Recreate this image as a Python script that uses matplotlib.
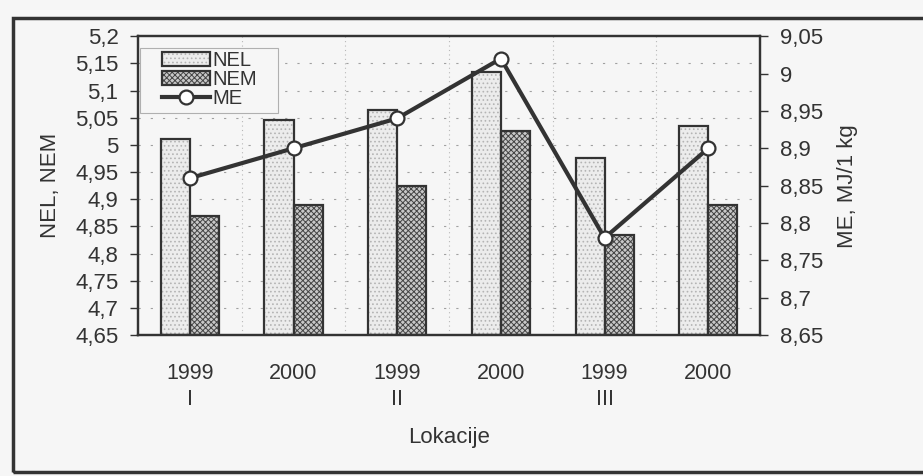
import matplotlib
matplotlib.use("Agg")
import matplotlib.pyplot as plt
import numpy as np
from matplotlib.patches import Patch, Rectangle
from matplotlib.lines import Line2D
from matplotlib.ticker import FuncFormatter, MultipleLocator

plt.rcParams['font.family'] = ['Liberation Sans', 'DejaVu Sans']
plt.rcParams['hatch.linewidth'] = 0.7

# data
years = ['1999', '2000', '1999', '2000', '1999', '2000']
locations = ['I', '', 'II', '', 'III', '']
NEL = [5.01, 5.045, 5.065, 5.135, 4.975, 5.035]
NEM = [4.87, 4.89, 4.925, 5.025, 4.835, 4.89]
ME = [8.86, 8.90, 8.94, 9.02, 8.78, 8.90]

ink = '#333333'
paper = '#f6f6f6'
nel_face, nel_hatch = '#ececec', '#b4b4b4'
nem_face, nem_hatch = '#c8c8c8', '#444444'

fig = plt.figure(figsize=(9.23, 4.76), dpi=100, facecolor=paper)
ax = fig.add_axes([0.1495, 0.296, 0.674, 0.628])
ax.set_facecolor(paper)

x = np.arange(len(years))
w = 0.28

# hatched fill first, then dark outline on top
ax.bar(x - w/2, [v - 4.65 for v in NEL], w, bottom=4.65, color=nel_face,
       hatch='....', edgecolor=nel_hatch, linewidth=0, zorder=2)
ax.bar(x - w/2, [v - 4.65 for v in NEL], w, bottom=4.65, fill=False,
       edgecolor=ink, linewidth=1.6, zorder=3)
ax.bar(x + w/2, [v - 4.65 for v in NEM], w, bottom=4.65, color=nem_face,
       hatch='xxxxxx', edgecolor=nem_hatch, linewidth=0, zorder=2)
ax.bar(x + w/2, [v - 4.65 for v in NEM], w, bottom=4.65, fill=False,
       edgecolor=ink, linewidth=1.6, zorder=3)

ax.set_xlim(-0.5, len(years) - 0.5)
ax.set_ylim(4.65, 5.2)
ax.yaxis.set_major_locator(MultipleLocator(0.05))
comma = FuncFormatter(lambda v, _: f'{v:.6g}'.replace('.', ','))
ax.yaxis.set_major_formatter(comma)

ax.set_xticks(x)
ax.set_xticklabels([f'{y}\n{l}' if l else y for y, l in zip(years, locations)],
                   va='top', linespacing=1.35)
ax.tick_params(axis='x', length=0, pad=20, labelsize=15.5, colors=ink)
ax.tick_params(axis='y', direction='out', length=6, width=1, pad=8,
               labelsize=16, colors=ink)

# grid: dashed horizontals at ticks, verticals between categories
for yv in np.arange(4.70, 5.2, 0.05):
    ax.axhline(yv, color='#a0a0a0', lw=0.8, ls=(0, (2, 9)), zorder=1)
for xv in x[1:] - 0.5:
    ax.axvline(xv, color='#b8b8b8', lw=0.8, ls=(0, (1, 3)), zorder=1)

for s in ax.spines.values():
    s.set_color(ink)
    s.set_linewidth(1.6)

ax.set_ylabel('NEL, NEM', fontsize=16, color=ink, labelpad=10)
ax.set_xlabel('Lokacije', fontsize=16, color=ink, labelpad=12)

ax2 = ax.twinx()
ax2.plot(x, ME, '-o', color=ink, lw=3, ms=10, mfc='white', mec=ink,
         mew=1.6, zorder=5)
ax2.set_ylim(8.65, 9.05)
ax2.yaxis.set_major_locator(MultipleLocator(0.05))
ax2.yaxis.set_major_formatter(comma)
ax2.tick_params(axis='y', direction='out', length=6, width=1, pad=8,
                labelsize=16, colors=ink)
ax2.set_ylabel('ME, MJ/1 kg', fontsize=16, color=ink, labelpad=10)
for s in ax2.spines.values():
    s.set_color(ink)
    s.set_linewidth(1.6)

h_nel = (Patch(facecolor=nel_face, hatch='....', edgecolor=nel_hatch, lw=0),
         Patch(fill=False, edgecolor=ink, lw=1.6))
h_nem = (Patch(facecolor=nem_face, hatch='xxxxxx', edgecolor=nem_hatch, lw=0),
         Patch(fill=False, edgecolor=ink, lw=1.6))
h_me = Line2D([], [], color=ink, lw=3, marker='o', ms=10, mfc='white',
              mec=ink, mew=1.6)
leg = ax2.legend([h_nel, h_nem, h_me], ['NEL', 'NEM', 'ME'], loc='upper left',
                 fontsize=14.5, frameon=False,
                 handlelength=2.4, handleheight=0.65, handletextpad=0.1,
                 labelspacing=0.0, borderpad=0, borderaxespad=0)
leg.set_bbox_to_anchor((162 / 923, 1 - 51 / 476), transform=fig.transFigure)
leg.set_zorder(6)
for t in leg.get_texts():
    t.set_color(ink)

# legend box, light grey like the original (wider padding than legend allows)
ax2.add_patch(Rectangle((140 / 923, 1 - 113 / 476), 138 / 923, 65 / 476,
                        transform=fig.transFigure, fill=True, clip_on=False,
                        facecolor=paper, edgecolor='#b0b0b0', lw=0.8,
                        zorder=4))

# outer frame of the scanned figure
fig.patches.append(Rectangle((0.0141, 0.0084), 1.0, 0.953,
                             transform=fig.transFigure, fill=False,
                             edgecolor=ink, lw=2.5))

fig.savefig('out.png', dpi=100, facecolor=paper)
